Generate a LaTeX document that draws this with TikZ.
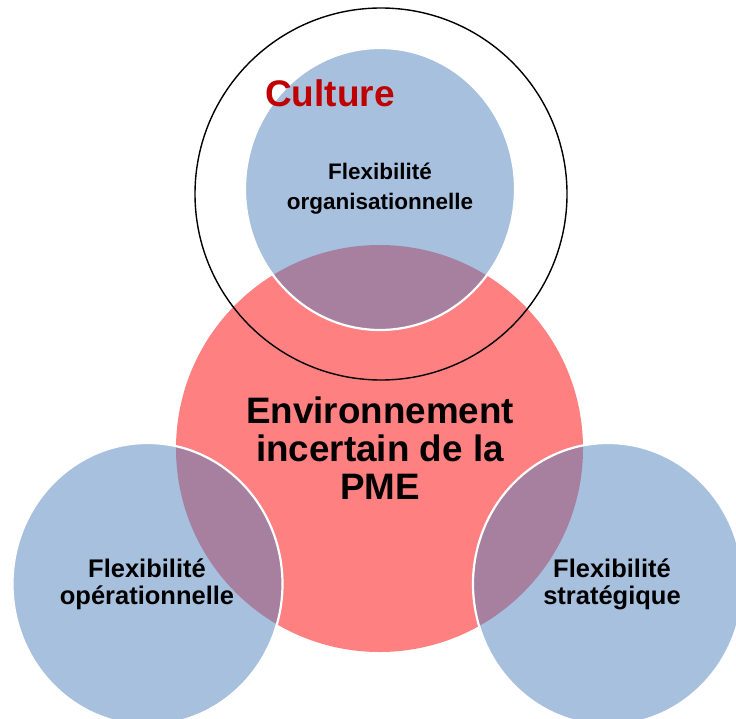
\documentclass[tikz,border=0pt]{standalone}
\usepackage{fontspec}
\setmainfont{Liberation Sans}
\usetikzlibrary{shapes.geometric}
\definecolor{envred}{RGB}{255,128,128}
\definecolor{flexblue}{RGB}{79,129,189}
\definecolor{culturered}{RGB}{192,0,0}
\begin{document}
\begin{tikzpicture}[x=1bp,y=-1bp,
  envcircle/.style={circle, fill=envred, minimum size=407bp, inner sep=0pt},
  flexcircle/.style={ellipse, fill=flexblue, fill opacity=0.5, draw=white, draw opacity=1, line width=2.2bp, minimum width=270bp, minimum height=282bp, inner sep=0pt},
  culturering/.style={circle, draw=black, line width=1.4bp, minimum size=372bp, inner sep=0pt},
  smalltxt/.style={align=center, text=black, inner sep=0pt, font=\bfseries\fontsize{22.5bp}{30bp}\selectfont},
  midtxt/.style={align=center, text=black, inner sep=0pt, font=\bfseries\fontsize{25.5bp}{27bp}\selectfont},
  bigtxt/.style={align=center, text=black, inner sep=0pt, font=\bfseries\fontsize{36.8bp}{38bp}\selectfont},
  culturetxt/.style={text=culturered, inner sep=0pt, font=\bfseries\fontsize{37bp}{40bp}\selectfont}]
\useasboundingbox (0,0) rectangle (736,719);
\node[envcircle] (env) at (379.5,448.5) {};
\node[flexcircle] (orga) at (380,189) {};
\node[flexcircle] (oper) at (147.5,584) {};
\node[flexcircle] (strat) at (608,584) {};
\node[culturering] (culture) at (381,194) {};
\node[smalltxt] (orgatext) at (380,189) {Flexibilité\\organisationnelle};
\node[midtxt] (opertext) at (147,584) {Flexibilité\\opérationnelle};
\node[midtxt] (strattext) at (612,584) {Flexibilité\\stratégique};
\node[bigtxt] (envtext) at (380,448) {Environnement\\incertain de la\\PME};
\node[culturetxt] (culturetext) at (330,93.5) {Culture};
\end{tikzpicture}
\end{document}
